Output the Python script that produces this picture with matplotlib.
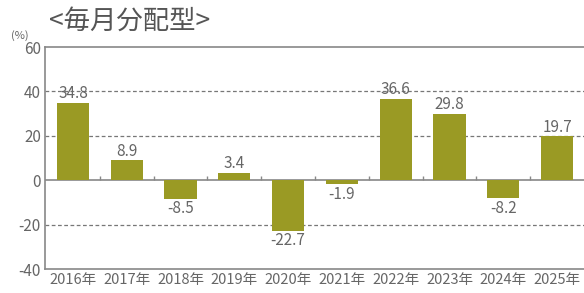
import numpy as np
import matplotlib.pyplot as plt

plt.rcParams['font.family'] = ['Noto Sans CJK JP', 'DejaVu Sans']

years = ["2016年", "2017年", "2018年", "2019年", "2020年",
         "2021年", "2022年", "2023年", "2024年", "2025年"]
returns = [34.8, 8.9, -8.5, 3.4, -22.7, -1.9, 36.6, 29.8, -8.2, 19.7]
yticks = [-40, -20, 0, 20, 40, 60]

BAR = "#9a9a24"
GRAY = "#666666"


def main():
    fig = plt.figure(figsize=(5.84, 2.93), dpi=100)
    ax = fig.add_axes([45 / 584, 1 - 269 / 293, 1 - 45 / 584, (269 - 47) / 293])

    x = np.arange(len(years))
    ax.bar(x, returns, width=0.6, color=BAR, zorder=3)

    for xi, v in zip(x, returns):
        if v >= 0:
            ax.text(xi, v + 0.3, f"{v:.1f}", ha="center", va="bottom",
                    fontsize=11, color=GRAY, zorder=4)
        else:
            ax.text(xi, v - 0.5, f"{v:.1f}", ha="center", va="top",
                    fontsize=11, color=GRAY, zorder=4)

    # grid and zero line
    for g in [40, 20, -20]:
        ax.axhline(g, color="#777777", lw=0.9, ls=(0, (3, 2)), zorder=1)
    ax.axhline(0, color="#888888", lw=1.2, zorder=2)
    ax.vlines(x[:-1] + 0.5, 0, 2, color="#888888", lw=1.0, zorder=2)

    ax.set_xlim(-0.52, len(years) - 0.5)
    ax.set_ylim(-40, 60)
    ax.set_yticks(yticks)
    ax.set_yticklabels([str(t) for t in yticks], fontsize=11, color=GRAY)
    ax.set_xticks(x)
    ax.set_xticklabels(years, fontsize=10.5, color=GRAY)
    ax.tick_params(length=0, pad=3)

    for s in ["left", "bottom", "top"]:
        ax.spines[s].set_color("#888888")
        ax.spines[s].set_linewidth(1.2)
    ax.spines["right"].set_visible(False)

    fig.text(49 / 584, 1 - 21 / 293, "<毎月分配型>", fontsize=19,
             color="#555555", va="center", ha="left")
    fig.text(20 / 584, 1 - 36 / 293, "(%)", fontsize=8, color=GRAY,
             va="center", ha="center")

    fig.savefig("out.png", dpi=100)


if __name__ == "__main__":
    main()
